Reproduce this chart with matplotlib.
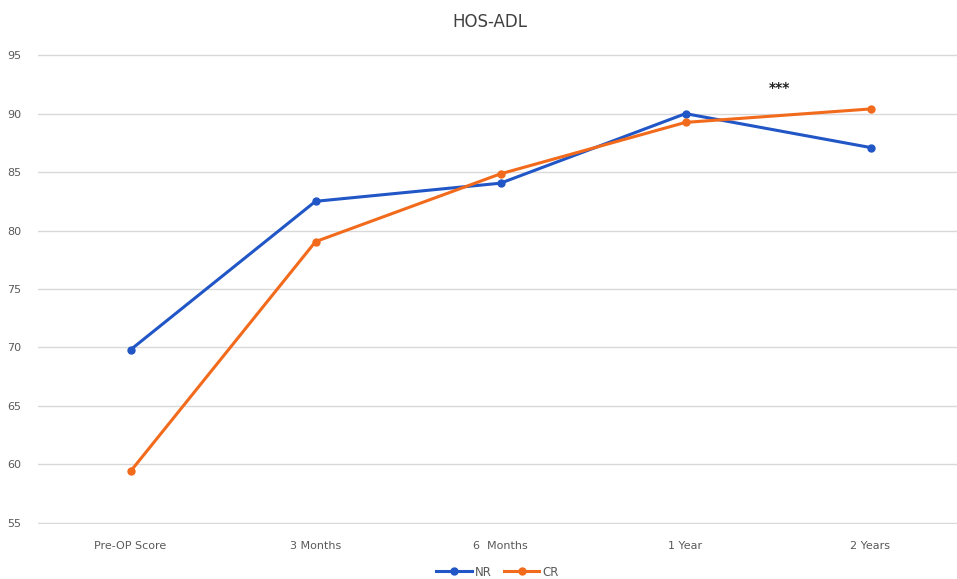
import matplotlib.pyplot as plt

categories = ['Pre-OP Score', '3 Months', '6  Months', '1 Year', '2 Years']
nr = [69.8, 82.5, 84.05, 90.0, 87.1]
cr = [59.4, 79.05, 84.85, 89.25, 90.4]
yticks = [55, 60, 65, 70, 75, 80, 85, 90, 95]

fig = plt.figure(figsize=(9.57, 5.79), dpi=100)
ax = fig.add_axes([38 / 957, 1 - 524 / 579, 925 / 957, 470 / 579])

x = list(range(len(categories)))
ax.plot(x, nr, color='#2156C6', lw=2.2, marker='o', ms=5, label='NR', zorder=3)
ax.plot(x, cr, color='#F26A1B', lw=2.2, marker='o', ms=5, label='CR', zorder=3)

ax.set_xlim(-0.5, 4.5)
ax.set_ylim(54.9, 95.1)
ax.set_yticks(yticks)
ax.set_xticks(x)
ax.set_xticklabels(categories)
ax.grid(axis='y', color='#d9d9d9', lw=1)
ax.set_axisbelow(True)
for s in ax.spines.values():
    s.set_visible(False)
ax.tick_params(length=0, labelsize=8, colors='#595959', pad=12)

ax.text(3.51, 92.2, '***', ha='center', va='center', fontsize=10,
        fontweight='bold', color='#222222')

fig.text(0.512, 1 - 22 / 579, 'HOS-ADL', ha='center', va='center', fontsize=12, color='#404040')

fig.legend(loc='center', bbox_to_anchor=(0.52, 1 - 572 / 579), ncol=2, frameon=False,
           fontsize=8.5, handlelength=3, columnspacing=1, handletextpad=0.3,
           labelcolor='#595959')

fig.savefig('out.png', dpi=100)
